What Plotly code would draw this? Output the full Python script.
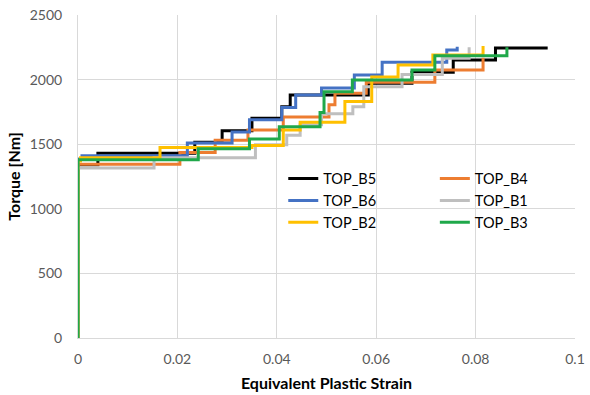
import plotly.graph_objects as go

# Equivalent plastic strain (x) / torque in Nm (y) step histories for each specimen
b5_strain = [0, 0, 0.004, 0.0235, 0.029, 0.035, 0.041, 0.0427, 0.0584, 0.0672, 0.0755, 0.084, 0.0945]
b5_torque = [0, 1340, 1430, 1515, 1605, 1700, 1790, 1880, 1972, 2057, 2152, 2245, 2245]

b4_strain = [0, 0, 0.0205, 0.0276, 0.0342, 0.0413, 0.0505, 0.0517, 0.058, 0.0718, 0.0815]
b4_torque = [0, 1345, 1435, 1530, 1610, 1710, 1805, 1895, 1980, 2075, 2170]

b6_strain = [0, 0, 0.0008, 0.022, 0.031, 0.0345, 0.041, 0.0438, 0.049, 0.0556, 0.0612, 0.0742, 0.0763]
b6_torque = [0, 1385, 1410, 1510, 1595, 1690, 1785, 1880, 1935, 2035, 2135, 2230, 2255]

b1_strain = [0, 0, 0.0153, 0.0357, 0.042, 0.0447, 0.049, 0.0553, 0.0575, 0.0652, 0.0733, 0.0787]
b1_torque = [0, 1315, 1395, 1495, 1570, 1650, 1735, 1790, 1945, 2040, 2165, 2250]

b2_strain = [0, 0, 0.0005, 0.0165, 0.035, 0.0413, 0.0447, 0.0537, 0.0591, 0.0644, 0.0714, 0.0815]
b2_torque = [0, 1370, 1395, 1475, 1490, 1610, 1670, 1830, 2020, 2113, 2190, 2260]

b3_strain = [0, 0, 0.0242, 0.0345, 0.0405, 0.0487, 0.0495, 0.0552, 0.0672, 0.0718, 0.0863]
b3_torque = [0, 1380, 1465, 1540, 1635, 1745, 1905, 1997, 2075, 2185, 2250]

x_ticks = [0, 0.02, 0.04, 0.06, 0.08, 0.1]
x_tick_text = ["0", "0.02", "0.04", "0.06", "0.08", "0.1"]
y_ticks = [0, 500, 1000, 1500, 2000, 2500]

series = [
    ("TOP_B5", b5_strain, b5_torque, "#000000", "legend"),
    ("TOP_B4", b4_strain, b4_torque, "#ED7D31", "legend2"),
    ("TOP_B6", b6_strain, b6_torque, "#4472C4", "legend"),
    ("TOP_B1", b1_strain, b1_torque, "#BFBFBF", "legend2"),
    ("TOP_B2", b2_strain, b2_torque, "#FFC000", "legend"),
    ("TOP_B3", b3_strain, b3_torque, "#1FA84A", "legend2"),
]

FONT = "Lato"

fig = go.Figure()
for name, xs, ys, color, leg in series:
    fig.add_trace(go.Scatter(
        x=xs, y=ys, name=name, mode="lines",
        line=dict(color=color, width=3, shape="hv"),
        legend=leg,
    ))

legend_style = dict(
    font=dict(family=FONT, size=14.5, color="#000000"),
    bgcolor="rgba(255,255,255,0)",
    borderwidth=0,
    tracegroupgap=0,
    itemwidth=30,
    yanchor="top",
)

fig.update_layout(
    width=590, height=395,
    margin=dict(l=78, r=15, t=15, b=57, autoexpand=False),
    paper_bgcolor="#ffffff",
    plot_bgcolor="#ffffff",
    font=dict(family=FONT),
    showlegend=True,
    legend=dict(x=0.413, y=0.543, xanchor="left", **legend_style),
    legend2=dict(x=0.718, y=0.543, xanchor="left", **legend_style),
    xaxis=dict(
        range=[0, 0.1],
        tickvals=x_ticks, ticktext=x_tick_text,
        showgrid=True, gridcolor="#D9D9D9", gridwidth=1,
        showline=True, linecolor="#D9D9D9", linewidth=1,
        zeroline=False, ticks="", automargin=False,
        ticklabelstandoff=8,
        tickfont=dict(family=FONT, size=14, color="#595959"),
        title=dict(text="<b>Equivalent Plastic Strain</b>",
                   font=dict(family=FONT, size=16, color="#000000"), standoff=12),
    ),
    yaxis=dict(
        range=[0, 2500],
        tickvals=y_ticks,
        showgrid=True, gridcolor="#D9D9D9", gridwidth=1,
        showline=True, linecolor="#D9D9D9", linewidth=1,
        zeroline=False, ticks="", automargin=False,
        ticklabelstandoff=12,
        tickfont=dict(family=FONT, size=14, color="#595959"),
        title=dict(text="<b>Torque [Nm]</b>",
                   font=dict(family=FONT, size=16, color="#000000"), standoff=5),
    ),
)

fig.write_html("out.html")
